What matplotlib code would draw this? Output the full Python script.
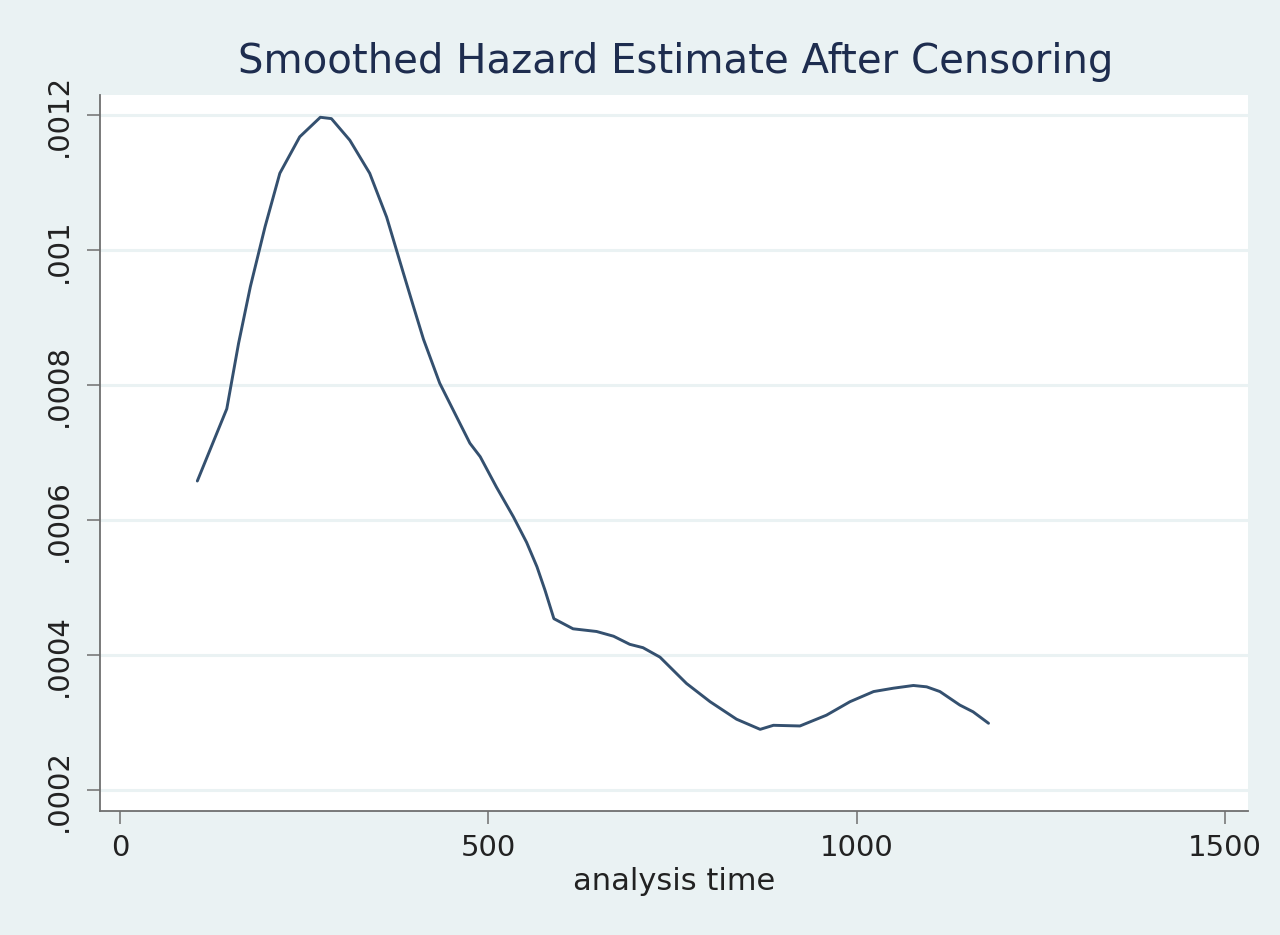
import numpy as np
import matplotlib
matplotlib.use("Agg")
import matplotlib.pyplot as plt

# smoothed hazard
analysis_time = [105, 145, 161, 177, 197, 217, 244, 272, 287, 312, 339, 362, 385,
                 398, 412, 434, 457, 475, 489, 511, 534, 552, 566, 577, 589, 615,
                 647, 670, 692, 710, 733, 769, 801, 837, 869, 887, 923, 959, 991,
                 1023, 1050, 1077, 1095, 1113, 1140, 1158, 1179]
hazard = [0.000658, 0.000765, 0.000862, 0.000946, 0.001035, 0.001114, 0.001168,
          0.001197, 0.001195, 0.001163, 0.001114, 0.001049, 0.000965, 0.000918,
          0.000868, 0.000803, 0.000753, 0.000714, 0.000694, 0.000649, 0.000605,
          0.000567, 0.000531, 0.000496, 0.000454, 0.000439, 0.000435, 0.000428,
          0.000416, 0.000411, 0.000397, 0.000358, 0.000331, 0.000305, 0.000290,
          0.000296, 0.000295, 0.000311, 0.000331, 0.000346, 0.000351, 0.000355,
          0.000353, 0.000346, 0.000326, 0.000316, 0.000299]

x_ticks = [0, 500, 1000, 1500]
y_ticks = [0.0002, 0.0004, 0.0006, 0.0008, 0.0010, 0.0012]
y_labels = [".0002", ".0004", ".0006", ".0008", ".001", ".0012"]

bg = "#eaf2f3"
axis_col = "#6f6f6f"

fig = plt.figure(figsize=(12.8, 9.35), dpi=100, facecolor=bg)
ax = fig.add_axes([100 / 1280, 1 - 811 / 935, 1148 / 1280, 716 / 935])
ax.set_facecolor("white")

ax.plot(analysis_time, hazard, color="#34506f", linewidth=2.1,
        solid_joinstyle="round", solid_capstyle="round")

ax.set_xlim(-27.1, 1531.2)
ax.set_ylim(0.000169, 0.00123)

ax.set_xticks(x_ticks)
ax.set_xticklabels([str(v) for v in x_ticks])
ax.set_yticks(y_ticks)
ax.set_yticklabels(y_labels, rotation=90, va="center")

ax.grid(axis="y", color=bg, linewidth=2.2)
ax.set_axisbelow(True)

for s in ["top", "right"]:
    ax.spines[s].set_visible(False)
for s in ["left", "bottom"]:
    ax.spines[s].set_color(axis_col)
    ax.spines[s].set_linewidth(1.3)

ax.tick_params(axis="both", direction="out", length=9.5, width=1.1,
               color=axis_col, labelsize=21, labelcolor="#222222")
ax.tick_params(axis="y", pad=10)
ax.tick_params(axis="x", pad=7)

ax.set_xlabel("analysis time", fontsize=22, color="#222222", labelpad=4)
fig.text(676 / 1280, 1 - 62 / 935, "Smoothed Hazard Estimate After Censoring",
         ha="center", va="center", fontsize=29, color="#1e2d4f")

fig.savefig("out.png", dpi=100, facecolor=bg)
